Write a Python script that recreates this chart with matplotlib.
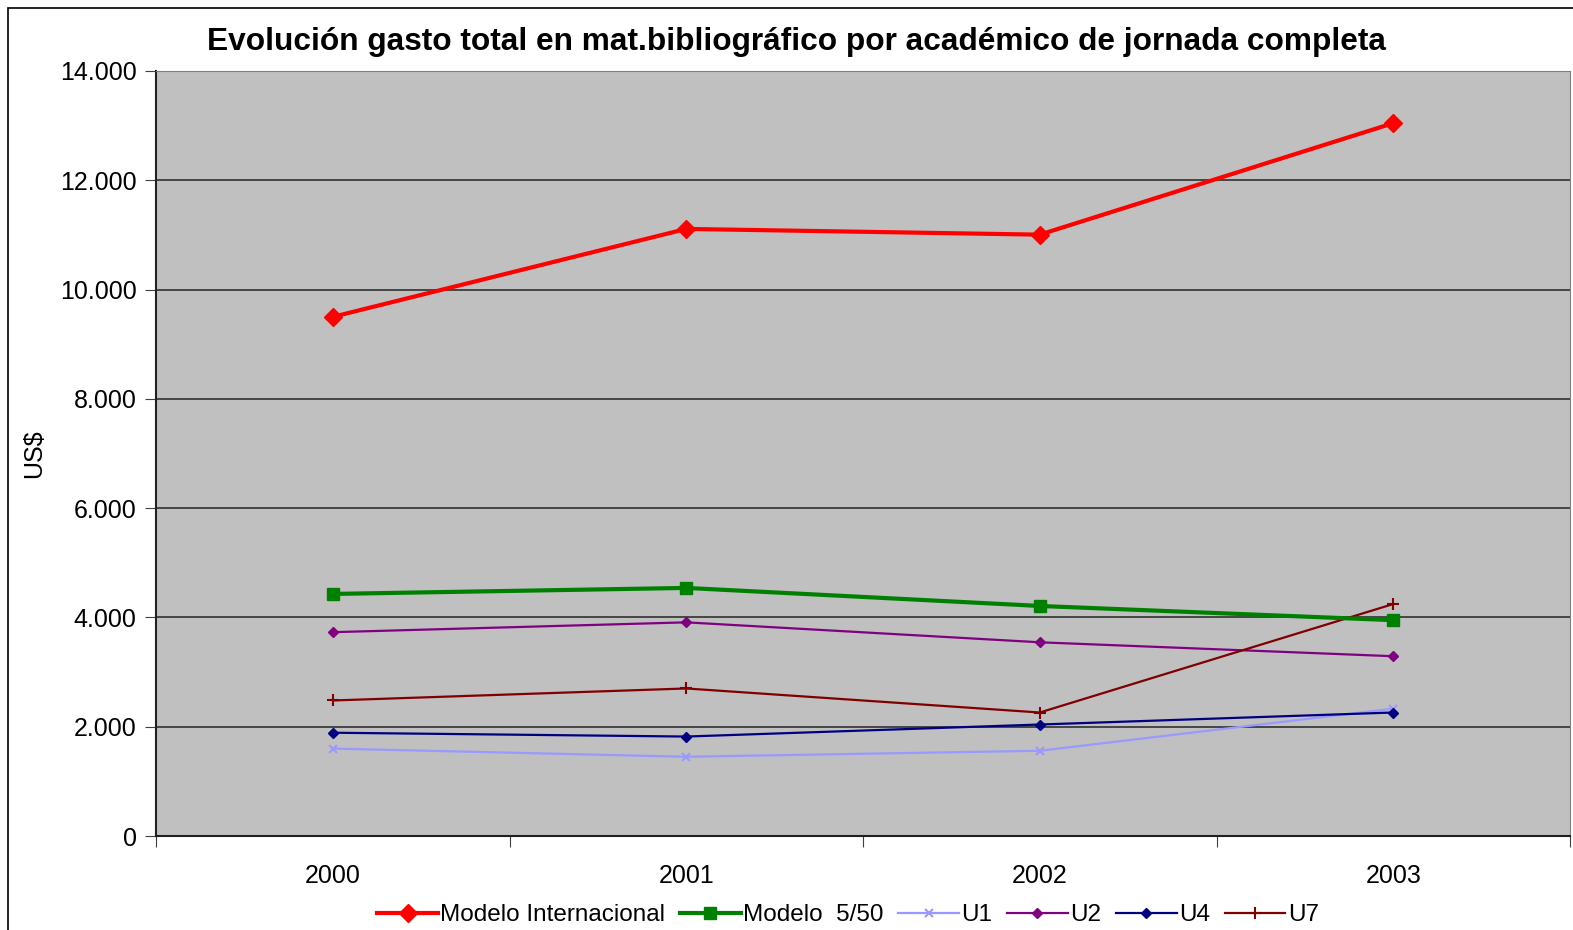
import matplotlib
matplotlib.use("Agg")
import matplotlib.pyplot as plt
from matplotlib.patches import Rectangle
from matplotlib.ticker import FuncFormatter

plt.rcParams["font.family"] = ["Liberation Sans", "DejaVu Sans"]

years = ["2000", "2001", "2002", "2003"]
modelo_int = [9500, 11110, 11005, 13045]
modelo_550 = [4430, 4540, 4210, 3950]
u1 = [1600, 1450, 1560, 2330]
u2 = [3730, 3910, 3545, 3290]
u4 = [1890, 1820, 2040, 2260]
u7 = [2480, 2700, 2260, 4245]

W, H = 1573, 930
fig = plt.figure(figsize=(W / 100, H / 100), dpi=100)
ax = fig.add_axes([156 / W, 1 - 836 / H, (1570 - 156) / W, (836 - 71) / H])
ax.set_facecolor("#C0C0C0")

x = range(len(years))
ax.plot(x, modelo_int, color="#FF0000", lw=3, marker="D", ms=9, label="Modelo Internacional", zorder=5)
ax.plot(x, modelo_550, color="#008000", lw=3, marker="s", ms=8, label="Modelo  5/50", zorder=5)
ax.plot(x, u1, color="#9999FF", lw=1.6, marker="x", ms=6, mew=1.5, label="U1", zorder=4)
ax.plot(x, u2, color="#800080", lw=1.6, marker="D", ms=5, label="U2", zorder=4)
ax.plot(x, u4, color="#000080", lw=1.6, marker="D", ms=5, label="U4", zorder=4)
ax.plot(x, u7, color="#800000", lw=1.6, marker="+", ms=9, mew=1.5, label="U7", zorder=4)

ax.set_xlim(-0.5, 3.5)
ax.set_ylim(0, 14000)
ax.set_yticks(range(0, 14001, 2000))
ax.yaxis.set_major_formatter(FuncFormatter(lambda v, p: f"{int(v):,}".replace(",", ".")))
ax.set_xticks([-0.5, 0.5, 1.5, 2.5, 3.5])
ax.set_xticklabels([])
ax.set_xticks(list(x), minor=True)
ax.set_xticklabels(years, minor=True)
ax.tick_params(axis="x", which="minor", length=0, pad=20, labelsize=18)
ax.tick_params(axis="x", which="major", length=8, color="#404040")
ax.tick_params(axis="y", length=8, labelsize=18, pad=6, color="#404040")
ax.grid(axis="y", color="#303030", lw=1.2)
ax.set_axisbelow(True)
for s in ("top", "right"):
    ax.spines[s].set_color("#808080")
for s in ("left", "bottom"):
    ax.spines[s].set_color("#202020")
    ax.spines[s].set_linewidth(1.5)

ax.set_ylabel("US$", fontsize=18, labelpad=10)
fig.text(797 / W, 1 - 42 / H, "Evolución gasto total en mat.bibliográfico por académico de jornada completa",
         ha="center", va="center", fontsize=22.8, fontweight="bold")

ax.legend(loc="center", bbox_to_anchor=(848 / W, 1 - 915 / H), bbox_transform=fig.transFigure,
          ncol=6, frameon=False, fontsize=17.5, handlelength=2.5, handletextpad=0.1,
          columnspacing=0.6, borderpad=0)

fig.patches.append(Rectangle((8 / W, -0.1), 1.2, 1 - 8 / H + 0.1, transform=fig.transFigure,
                             fill=False, edgecolor="black", lw=1.2))
fig.savefig("out.png", dpi=100)
